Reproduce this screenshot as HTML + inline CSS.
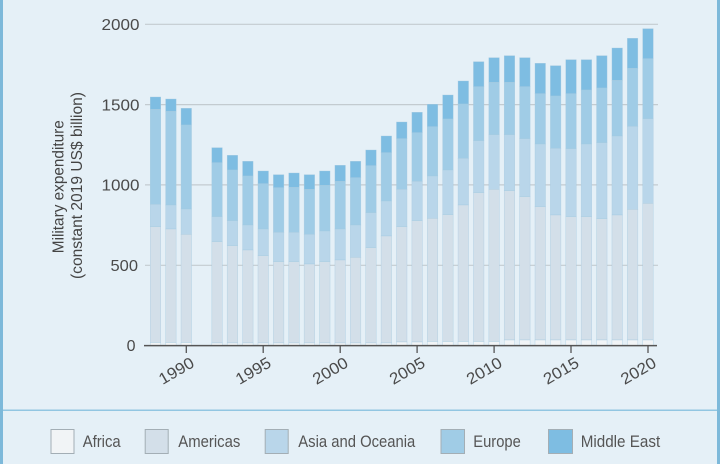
<!DOCTYPE html>
<html><head><meta charset="utf-8"><style>
html,body{margin:0;padding:0;background:#e5f0f7;}
svg{display:block;}
text{font-family:"Liberation Sans",Arial,sans-serif;}
</style></head><body>
<svg width="720" height="464" viewBox="0 0 720 464" xmlns="http://www.w3.org/2000/svg">
<rect x="0" y="0" width="720" height="464" fill="#e5f0f7"/>
<rect x="0" y="0" width="3" height="464" fill="#7db9da"/>
<rect x="717" y="0" width="3" height="464" fill="#7db9da"/>
<rect x="3" y="409.5" width="714" height="1.5" fill="#92c6e2"/>
<g stroke="#c3cbd0" stroke-width="1.2">
<line x1="145" y1="24.3" x2="658" y2="24.3"/>
<line x1="145" y1="104.6" x2="658" y2="104.6"/>
<line x1="145" y1="184.9" x2="658" y2="184.9"/>
<line x1="145" y1="265.3" x2="658" y2="265.3"/>
</g>
<g fill="#4a4a4a" font-size="16" text-anchor="end">
<text x="139.5" y="30" textLength="38" lengthAdjust="spacingAndGlyphs">2000</text>
<text x="139.5" y="110.3" textLength="38" lengthAdjust="spacingAndGlyphs">1500</text>
<text x="139.5" y="190.6" textLength="38" lengthAdjust="spacingAndGlyphs">1000</text>
<text x="138" y="271" textLength="27.5" lengthAdjust="spacingAndGlyphs">500</text>
<text x="135.5" y="351.2">0</text>
</g>
<g fill="#444" font-size="15.5" text-anchor="middle">
<text transform="translate(63.3,186.7) rotate(-90)" textLength="133" lengthAdjust="spacingAndGlyphs">Military expenditure</text>
<text transform="translate(82,185.5) rotate(-90)" textLength="187" lengthAdjust="spacingAndGlyphs">(constant 2019 US$ billion)</text>
</g>
<g stroke="#a4c9df" stroke-width="0.5" stroke-opacity="0.7">
<g transform="translate(150.25,0)"><rect y="97" width="10.5" height="12.3" fill="#7ebde2"/><rect y="109.3" width="10.5" height="95" fill="#a0cce6"/><rect y="204.3" width="10.5" height="22.4" fill="#b9d6ea"/><rect y="226.7" width="10.5" height="115.8" fill="#d3dfe9"/><rect y="342.5" width="10.5" height="3" fill="#f1f4f6"/></g>
<g transform="translate(165.64,0)"><rect y="99" width="10.5" height="12.3" fill="#7ebde2"/><rect y="111.3" width="10.5" height="93.7" fill="#a0cce6"/><rect y="205" width="10.5" height="24" fill="#b9d6ea"/><rect y="229" width="10.5" height="113.5" fill="#d3dfe9"/><rect y="342.5" width="10.5" height="3" fill="#f1f4f6"/></g>
<g transform="translate(181.03,0)"><rect y="108.3" width="10.5" height="16.7" fill="#7ebde2"/><rect y="125" width="10.5" height="84" fill="#a0cce6"/><rect y="209" width="10.5" height="25.3" fill="#b9d6ea"/><rect y="234.3" width="10.5" height="108.2" fill="#d3dfe9"/><rect y="342.5" width="10.5" height="3" fill="#f1f4f6"/></g>
<g transform="translate(211.81,0)"><rect y="147.7" width="10.5" height="15" fill="#7ebde2"/><rect y="162.7" width="10.5" height="54" fill="#a0cce6"/><rect y="216.7" width="10.5" height="25" fill="#b9d6ea"/><rect y="241.7" width="10.5" height="101.3" fill="#d3dfe9"/><rect y="343" width="10.5" height="2.5" fill="#f1f4f6"/></g>
<g transform="translate(227.2,0)"><rect y="155.3" width="10.5" height="14.7" fill="#7ebde2"/><rect y="170" width="10.5" height="50.7" fill="#a0cce6"/><rect y="220.7" width="10.5" height="25" fill="#b9d6ea"/><rect y="245.7" width="10.5" height="97.3" fill="#d3dfe9"/><rect y="343" width="10.5" height="2.5" fill="#f1f4f6"/></g>
<g transform="translate(242.59,0)"><rect y="161.3" width="10.5" height="14.7" fill="#7ebde2"/><rect y="176" width="10.5" height="49" fill="#a0cce6"/><rect y="225" width="10.5" height="25" fill="#b9d6ea"/><rect y="250" width="10.5" height="93" fill="#d3dfe9"/><rect y="343" width="10.5" height="2.5" fill="#f1f4f6"/></g>
<g transform="translate(257.98,0)"><rect y="171" width="10.5" height="12.7" fill="#7ebde2"/><rect y="183.7" width="10.5" height="45.3" fill="#a0cce6"/><rect y="229" width="10.5" height="26.7" fill="#b9d6ea"/><rect y="255.7" width="10.5" height="87.3" fill="#d3dfe9"/><rect y="343" width="10.5" height="2.5" fill="#f1f4f6"/></g>
<g transform="translate(273.37,0)"><rect y="174.7" width="10.5" height="13" fill="#7ebde2"/><rect y="187.7" width="10.5" height="44.6" fill="#a0cce6"/><rect y="232.3" width="10.5" height="29.4" fill="#b9d6ea"/><rect y="261.7" width="10.5" height="81.3" fill="#d3dfe9"/><rect y="343" width="10.5" height="2.5" fill="#f1f4f6"/></g>
<g transform="translate(288.76,0)"><rect y="173" width="10.5" height="14.3" fill="#7ebde2"/><rect y="187.3" width="10.5" height="45" fill="#a0cce6"/><rect y="232.3" width="10.5" height="29.4" fill="#b9d6ea"/><rect y="261.7" width="10.5" height="81.3" fill="#d3dfe9"/><rect y="343" width="10.5" height="2.5" fill="#f1f4f6"/></g>
<g transform="translate(304.15,0)"><rect y="174.7" width="10.5" height="14.6" fill="#7ebde2"/><rect y="189.3" width="10.5" height="45" fill="#a0cce6"/><rect y="234.3" width="10.5" height="29.7" fill="#b9d6ea"/><rect y="264" width="10.5" height="79" fill="#d3dfe9"/><rect y="343" width="10.5" height="2.5" fill="#f1f4f6"/></g>
<g transform="translate(319.54,0)"><rect y="171" width="10.5" height="14.3" fill="#7ebde2"/><rect y="185.3" width="10.5" height="45.7" fill="#a0cce6"/><rect y="231" width="10.5" height="30.7" fill="#b9d6ea"/><rect y="261.7" width="10.5" height="81.3" fill="#d3dfe9"/><rect y="343" width="10.5" height="2.5" fill="#f1f4f6"/></g>
<g transform="translate(334.93,0)"><rect y="165.3" width="10.5" height="16" fill="#7ebde2"/><rect y="181.3" width="10.5" height="47.7" fill="#a0cce6"/><rect y="229" width="10.5" height="31" fill="#b9d6ea"/><rect y="260" width="10.5" height="83" fill="#d3dfe9"/><rect y="343" width="10.5" height="2.5" fill="#f1f4f6"/></g>
<g transform="translate(350.32,0)"><rect y="161.3" width="10.5" height="16.4" fill="#7ebde2"/><rect y="177.7" width="10.5" height="47.3" fill="#a0cce6"/><rect y="225" width="10.5" height="32.3" fill="#b9d6ea"/><rect y="257.3" width="10.5" height="85.7" fill="#d3dfe9"/><rect y="343" width="10.5" height="2.5" fill="#f1f4f6"/></g>
<g transform="translate(365.71,0)"><rect y="150" width="10.5" height="15.7" fill="#7ebde2"/><rect y="165.7" width="10.5" height="47" fill="#a0cce6"/><rect y="212.7" width="10.5" height="35" fill="#b9d6ea"/><rect y="247.7" width="10.5" height="95.3" fill="#d3dfe9"/><rect y="343" width="10.5" height="2.5" fill="#f1f4f6"/></g>
<g transform="translate(381.1,0)"><rect y="136" width="10.5" height="16.7" fill="#7ebde2"/><rect y="152.7" width="10.5" height="48.3" fill="#a0cce6"/><rect y="201" width="10.5" height="35" fill="#b9d6ea"/><rect y="236" width="10.5" height="107" fill="#d3dfe9"/><rect y="343" width="10.5" height="2.5" fill="#f1f4f6"/></g>
<g transform="translate(396.49,0)"><rect y="122" width="10.5" height="16.7" fill="#7ebde2"/><rect y="138.7" width="10.5" height="50.6" fill="#a0cce6"/><rect y="189.3" width="10.5" height="37.4" fill="#b9d6ea"/><rect y="226.7" width="10.5" height="115.3" fill="#d3dfe9"/><rect y="342" width="10.5" height="3.5" fill="#f1f4f6"/></g>
<g transform="translate(411.88,0)"><rect y="112.3" width="10.5" height="20.4" fill="#7ebde2"/><rect y="132.7" width="10.5" height="48.6" fill="#a0cce6"/><rect y="181.3" width="10.5" height="39.4" fill="#b9d6ea"/><rect y="220.7" width="10.5" height="121.3" fill="#d3dfe9"/><rect y="342" width="10.5" height="3.5" fill="#f1f4f6"/></g>
<g transform="translate(427.27,0)"><rect y="104.3" width="10.5" height="22.4" fill="#7ebde2"/><rect y="126.7" width="10.5" height="49.3" fill="#a0cce6"/><rect y="176" width="10.5" height="42.3" fill="#b9d6ea"/><rect y="218.3" width="10.5" height="123.2" fill="#d3dfe9"/><rect y="341.5" width="10.5" height="4" fill="#f1f4f6"/></g>
<g transform="translate(442.66,0)"><rect y="95" width="10.5" height="24" fill="#7ebde2"/><rect y="119" width="10.5" height="51" fill="#a0cce6"/><rect y="170" width="10.5" height="44.7" fill="#b9d6ea"/><rect y="214.7" width="10.5" height="126.8" fill="#d3dfe9"/><rect y="341.5" width="10.5" height="4" fill="#f1f4f6"/></g>
<g transform="translate(458.05,0)"><rect y="81" width="10.5" height="23" fill="#7ebde2"/><rect y="104" width="10.5" height="54.3" fill="#a0cce6"/><rect y="158.3" width="10.5" height="46.7" fill="#b9d6ea"/><rect y="205" width="10.5" height="136.5" fill="#d3dfe9"/><rect y="341.5" width="10.5" height="4" fill="#f1f4f6"/></g>
<g transform="translate(473.44,0)"><rect y="61.7" width="10.5" height="25" fill="#7ebde2"/><rect y="86.7" width="10.5" height="54" fill="#a0cce6"/><rect y="140.7" width="10.5" height="52" fill="#b9d6ea"/><rect y="192.7" width="10.5" height="148.8" fill="#d3dfe9"/><rect y="341.5" width="10.5" height="4" fill="#f1f4f6"/></g>
<g transform="translate(488.83,0)"><rect y="57.7" width="10.5" height="24.6" fill="#7ebde2"/><rect y="82.3" width="10.5" height="52.4" fill="#a0cce6"/><rect y="134.7" width="10.5" height="54.6" fill="#b9d6ea"/><rect y="189.3" width="10.5" height="152.2" fill="#d3dfe9"/><rect y="341.5" width="10.5" height="4" fill="#f1f4f6"/></g>
<g transform="translate(504.22,0)"><rect y="55.7" width="10.5" height="26.6" fill="#7ebde2"/><rect y="82.3" width="10.5" height="52.4" fill="#a0cce6"/><rect y="134.7" width="10.5" height="56" fill="#b9d6ea"/><rect y="190.7" width="10.5" height="149.3" fill="#d3dfe9"/><rect y="340" width="10.5" height="5.5" fill="#f1f4f6"/></g>
<g transform="translate(519.61,0)"><rect y="57.7" width="10.5" height="29" fill="#7ebde2"/><rect y="86.7" width="10.5" height="52" fill="#a0cce6"/><rect y="138.7" width="10.5" height="58" fill="#b9d6ea"/><rect y="196.7" width="10.5" height="143.3" fill="#d3dfe9"/><rect y="340" width="10.5" height="5.5" fill="#f1f4f6"/></g>
<g transform="translate(535,0)"><rect y="63.3" width="10.5" height="30.4" fill="#7ebde2"/><rect y="93.7" width="10.5" height="50.3" fill="#a0cce6"/><rect y="144" width="10.5" height="62.7" fill="#b9d6ea"/><rect y="206.7" width="10.5" height="133.3" fill="#d3dfe9"/><rect y="340" width="10.5" height="5.5" fill="#f1f4f6"/></g>
<g transform="translate(550.39,0)"><rect y="65.7" width="10.5" height="30.3" fill="#7ebde2"/><rect y="96" width="10.5" height="52.3" fill="#a0cce6"/><rect y="148.3" width="10.5" height="66.7" fill="#b9d6ea"/><rect y="215" width="10.5" height="125" fill="#d3dfe9"/><rect y="340" width="10.5" height="5.5" fill="#f1f4f6"/></g>
<g transform="translate(565.78,0)"><rect y="59.7" width="10.5" height="34" fill="#7ebde2"/><rect y="93.7" width="10.5" height="55" fill="#a0cce6"/><rect y="148.7" width="10.5" height="68" fill="#b9d6ea"/><rect y="216.7" width="10.5" height="123.3" fill="#d3dfe9"/><rect y="340" width="10.5" height="5.5" fill="#f1f4f6"/></g>
<g transform="translate(581.17,0)"><rect y="59.7" width="10.5" height="30.3" fill="#7ebde2"/><rect y="90" width="10.5" height="54" fill="#a0cce6"/><rect y="144" width="10.5" height="72.7" fill="#b9d6ea"/><rect y="216.7" width="10.5" height="123.3" fill="#d3dfe9"/><rect y="340" width="10.5" height="5.5" fill="#f1f4f6"/></g>
<g transform="translate(596.56,0)"><rect y="55.7" width="10.5" height="32.3" fill="#7ebde2"/><rect y="88" width="10.5" height="54.7" fill="#a0cce6"/><rect y="142.7" width="10.5" height="76" fill="#b9d6ea"/><rect y="218.7" width="10.5" height="121.3" fill="#d3dfe9"/><rect y="340" width="10.5" height="5.5" fill="#f1f4f6"/></g>
<g transform="translate(611.95,0)"><rect y="48" width="10.5" height="32.3" fill="#7ebde2"/><rect y="80.3" width="10.5" height="55.7" fill="#a0cce6"/><rect y="136" width="10.5" height="79" fill="#b9d6ea"/><rect y="215" width="10.5" height="125" fill="#d3dfe9"/><rect y="340" width="10.5" height="5.5" fill="#f1f4f6"/></g>
<g transform="translate(627.34,0)"><rect y="38.3" width="10.5" height="30" fill="#7ebde2"/><rect y="68.3" width="10.5" height="58" fill="#a0cce6"/><rect y="126.3" width="10.5" height="83" fill="#b9d6ea"/><rect y="209.3" width="10.5" height="130.7" fill="#d3dfe9"/><rect y="340" width="10.5" height="5.5" fill="#f1f4f6"/></g>
<g transform="translate(642.73,0)"><rect y="28.7" width="10.5" height="30" fill="#7ebde2"/><rect y="58.7" width="10.5" height="60" fill="#a0cce6"/><rect y="118.7" width="10.5" height="84.6" fill="#b9d6ea"/><rect y="203.3" width="10.5" height="136.7" fill="#d3dfe9"/><rect y="340" width="10.5" height="5.5" fill="#f1f4f6"/></g>
</g>
<line x1="144" y1="345.6" x2="657" y2="345.6" stroke="#555" stroke-width="1.5"/>
<g stroke="#555" stroke-width="1.3">
<line x1="186.3" y1="345.6" x2="186.3" y2="353"/>
<line x1="263.2" y1="345.6" x2="263.2" y2="353"/>
<line x1="340.2" y1="345.6" x2="340.2" y2="353"/>
<line x1="417.1" y1="345.6" x2="417.1" y2="353"/>
<line x1="494.1" y1="345.6" x2="494.1" y2="353"/>
<line x1="571" y1="345.6" x2="571" y2="353"/>
<line x1="648" y1="345.6" x2="648" y2="353"/>
</g>
<g fill="#4a4a4a" font-size="16" text-anchor="end">
<text transform="translate(195.5,366) rotate(-30)" textLength="38" lengthAdjust="spacingAndGlyphs">1990</text>
<text transform="translate(272.4,366) rotate(-30)" textLength="38" lengthAdjust="spacingAndGlyphs">1995</text>
<text transform="translate(349.4,366) rotate(-30)" textLength="38" lengthAdjust="spacingAndGlyphs">2000</text>
<text transform="translate(426.3,366) rotate(-30)" textLength="38" lengthAdjust="spacingAndGlyphs">2005</text>
<text transform="translate(503.3,366) rotate(-30)" textLength="38" lengthAdjust="spacingAndGlyphs">2010</text>
<text transform="translate(580.2,366) rotate(-30)" textLength="38" lengthAdjust="spacingAndGlyphs">2015</text>
<text transform="translate(657.5,366) rotate(-30)" textLength="38" lengthAdjust="spacingAndGlyphs">2020</text>
</g>
<g stroke="#a3aeb5" stroke-width="1">
<rect x="51" y="429.5" width="23" height="24" fill="#f1f4f6"/>
<rect x="145.2" y="429.5" width="23" height="24" fill="#d3dfe9"/>
<rect x="265.2" y="429.5" width="23" height="24" fill="#b9d6ea"/>
<rect x="441" y="429.5" width="23.5" height="24" fill="#a0cce6"/>
<rect x="548.5" y="429.5" width="24" height="24" fill="#7ebde2"/>
</g>
<g fill="#555" font-size="17">
<text x="82.7" y="447" textLength="38" lengthAdjust="spacingAndGlyphs">Africa</text>
<text x="178.3" y="447" textLength="62" lengthAdjust="spacingAndGlyphs">Americas</text>
<text x="298.3" y="447" textLength="117" lengthAdjust="spacingAndGlyphs">Asia and Oceania</text>
<text x="473.3" y="447" textLength="47.5" lengthAdjust="spacingAndGlyphs">Europe</text>
<text x="580.7" y="447" textLength="79.5" lengthAdjust="spacingAndGlyphs">Middle East</text>
</g>
</svg>
</body></html>
